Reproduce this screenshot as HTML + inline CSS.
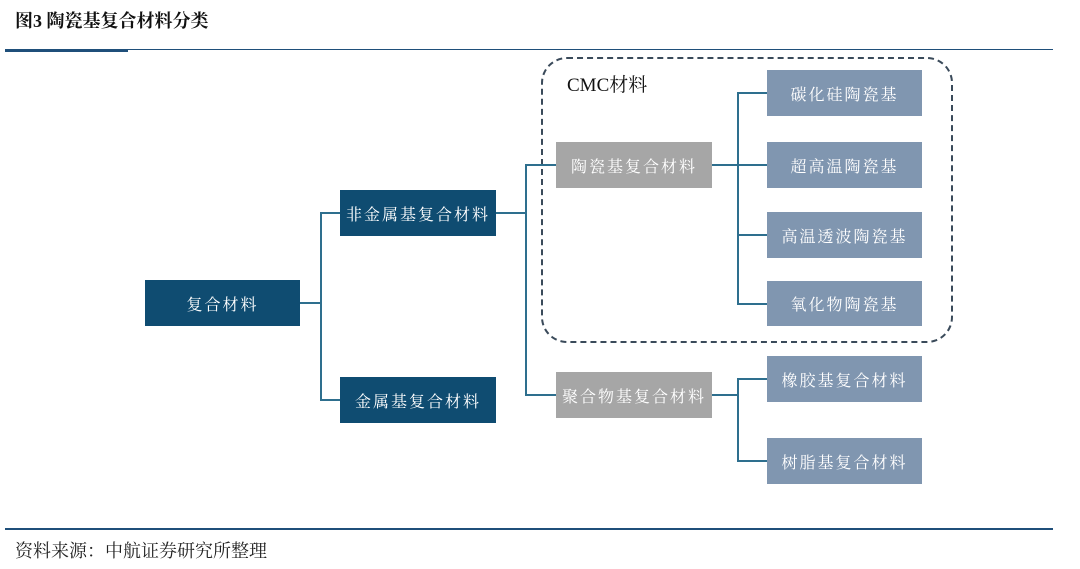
<!DOCTYPE html>
<html><head><meta charset="utf-8"><style>
body{margin:0;width:1080px;height:569px;background:#fff;position:relative;overflow:hidden;font-family:"Liberation Serif","Noto Serif CJK SC",serif}
.b{position:absolute;color:#fff;font-size:16px;display:flex;align-items:center;justify-content:center;letter-spacing:2px}
.d{background:#0f4c71}.g{background:#a6a6a6}.s{background:#8096b0}
.l{position:absolute;background:#2e6f8e}
</style></head><body>
<div style="position:absolute;left:15px;top:7px;font-size:18px;font-weight:bold;color:#111">图3 陶瓷基复合材料分类</div>
<div style="position:absolute;left:5px;top:49px;width:1048px;height:1px;background:#1f4f7a"></div>
<div style="position:absolute;left:5px;top:49px;width:123px;height:3px;background:#1f4f7a"></div>
<div style="position:absolute;left:5px;top:528px;width:1048px;height:2px;background:#1f4f7a"></div>
<div style="position:absolute;left:15px;top:537px;font-size:18px;color:#222">资料来源：中航证券研究所整理</div>
<div style="position:absolute;left:541px;top:57px;width:408px;height:282px;border:2px dashed #3a4a5a;border-radius:26px"></div>
<div style="position:absolute;left:567px;top:70px;font-size:19px;color:#111">CMC材料</div>
<div class="l" style="left:300px;top:302px;width:21px;height:2px"></div>
<div class="l" style="left:320px;top:212px;width:2px;height:189px"></div>
<div class="l" style="left:320px;top:212px;width:20px;height:2px"></div>
<div class="l" style="left:320px;top:399px;width:20px;height:2px"></div>
<div class="l" style="left:496px;top:212px;width:30px;height:2px"></div>
<div class="l" style="left:525px;top:164px;width:2px;height:232px"></div>
<div class="l" style="left:525px;top:164px;width:31px;height:2px"></div>
<div class="l" style="left:525px;top:394px;width:31px;height:2px"></div>
<div class="l" style="left:712px;top:164px;width:55px;height:2px"></div>
<div class="l" style="left:737px;top:92px;width:2px;height:213px"></div>
<div class="l" style="left:737px;top:92px;width:30px;height:2px"></div>
<div class="l" style="left:737px;top:234px;width:30px;height:2px"></div>
<div class="l" style="left:737px;top:303px;width:30px;height:2px"></div>
<div class="l" style="left:712px;top:394px;width:26px;height:2px"></div>
<div class="l" style="left:737px;top:378px;width:2px;height:84px"></div>
<div class="l" style="left:737px;top:378px;width:30px;height:2px"></div>
<div class="l" style="left:737px;top:460px;width:30px;height:2px"></div>
<div class="b d" style="left:145px;top:280px;width:155px;height:46px">复合材料</div>
<div class="b d" style="left:340px;top:190px;width:156px;height:46px">非金属基复合材料</div>
<div class="b d" style="left:340px;top:377px;width:156px;height:46px">金属基复合材料</div>
<div class="b g" style="left:556px;top:142px;width:156px;height:46px">陶瓷基复合材料</div>
<div class="b g" style="left:556px;top:372px;width:156px;height:46px">聚合物基复合材料</div>
<div class="b s" style="left:767px;top:70px;width:155px;height:46px">碳化硅陶瓷基</div>
<div class="b s" style="left:767px;top:142px;width:155px;height:46px">超高温陶瓷基</div>
<div class="b s" style="left:767px;top:212px;width:155px;height:46px">高温透波陶瓷基</div>
<div class="b s" style="left:767px;top:281px;width:155px;height:45px">氧化物陶瓷基</div>
<div class="b s" style="left:767px;top:356px;width:155px;height:46px">橡胶基复合材料</div>
<div class="b s" style="left:767px;top:438px;width:155px;height:46px">树脂基复合材料</div>
</body></html>
